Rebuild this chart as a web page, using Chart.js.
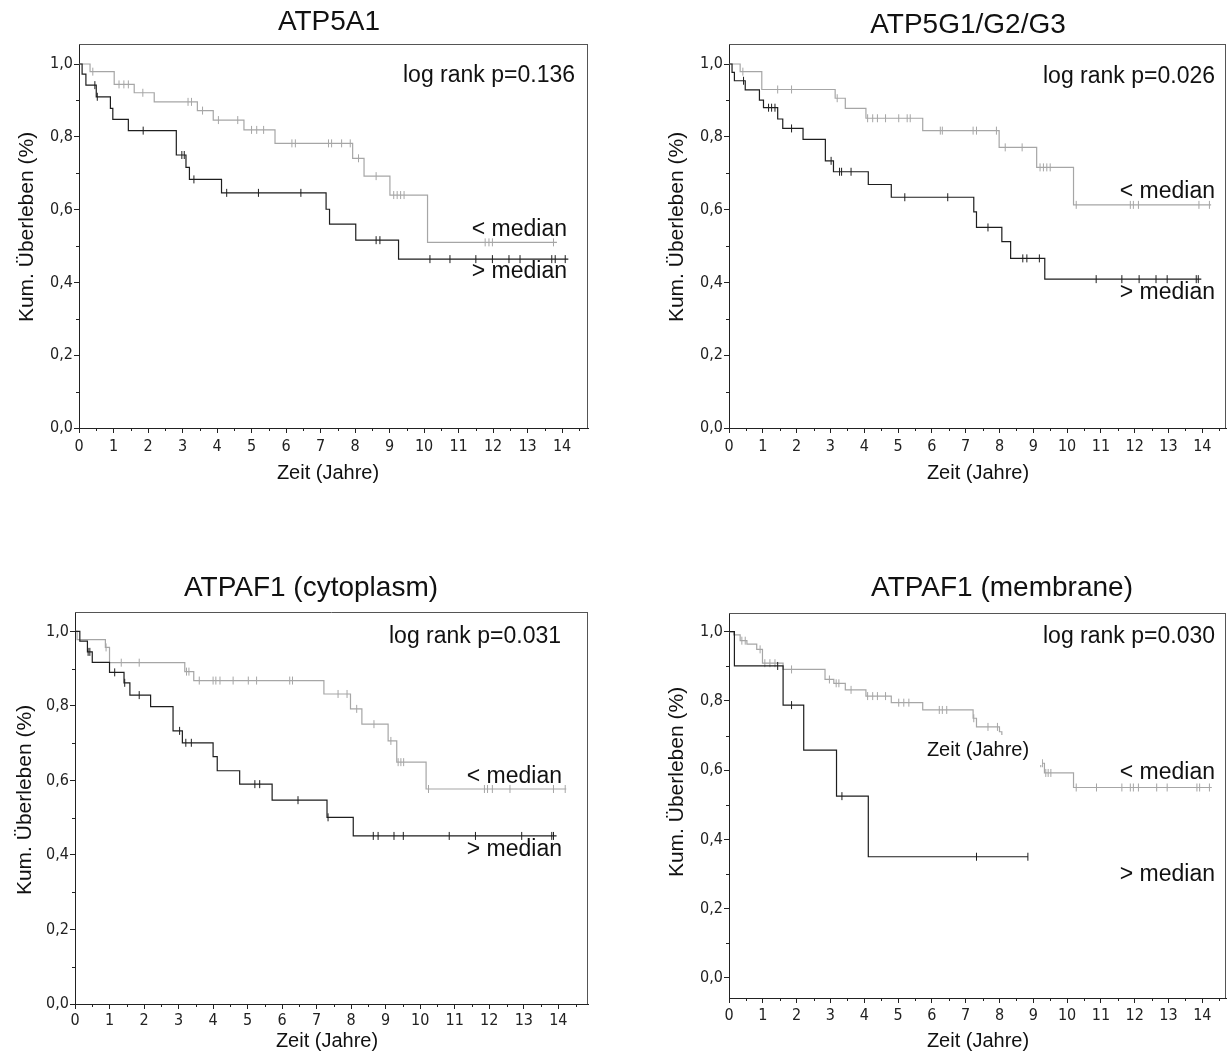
<!DOCTYPE html>
<html>
<head>
<meta charset="utf-8">
<title>Kaplan-Meier: ATP5A1, ATP5G1/G2/G3, ATPAF1</title>
<script src="https://cdn.jsdelivr.net/npm/chart.js@4.4.1/dist/chart.umd.min.js"></script>
<style>
  html, body { margin: 0; padding: 0; background: #fff; }
  #page { position: relative; width: 1231px; height: 1053px; overflow: hidden; }
  #page canvas { position: absolute; left: 0; top: 0; }
</style>
</head>
<body>
<div id="page">
  <canvas id="c1" width="1231" height="1053"></canvas>
  <canvas id="c2" width="1231" height="1053"></canvas>
  <canvas id="c3" width="1231" height="1053"></canvas>
  <canvas id="c4" width="1231" height="1053"></canvas>
</div>
<script>
// survival steps: time (years) where the curve drops, and the value after the drop
// last entry = end of follow-up. cens = censored cases (years)

// ATP5A1
const atp5a1LowTime  = [0, 0.32, 1.02, 1.6, 2.18, 3.43, 3.89, 4.78, 5.68, 7.93, 8.26, 9.01, 10.1, 13.85];
const atp5a1LowSurv  = [1.0, 0.979, 0.944, 0.921, 0.896, 0.872, 0.846, 0.819, 0.782, 0.741, 0.692, 0.640, 0.510, 0.510];
const atp5a1LowCens  = [0.4, 1.16, 1.3, 1.43, 1.85, 3.16, 3.26, 3.58, 4.04, 4.6, 5.0, 5.15, 5.35, 6.17, 6.27, 7.23, 7.32, 7.61, 7.86, 8.1, 8.61, 9.12, 9.22, 9.32, 9.42, 11.77, 11.88, 11.98, 13.75];
const atp5a1HighTime = [0, 0.09, 0.2, 0.5, 0.91, 0.98, 1.43, 2.82, 3.1, 3.2, 4.13, 7.16, 7.26, 8.02, 9.26, 14.18];
const atp5a1HighSurv = [1.0, 0.972, 0.942, 0.910, 0.878, 0.848, 0.817, 0.750, 0.716, 0.683, 0.646, 0.601, 0.560, 0.516, 0.464, 0.464];
const atp5a1HighCens = [0.46, 0.53, 1.86, 2.98, 3.05, 3.33, 4.28, 5.2, 6.43, 8.61, 8.72, 10.17, 10.75, 11.5, 11.98, 12.46, 12.78, 13.7, 13.8, 14.09];

// ATP5G1/G2/G3
const atp5gLowTime  = [0, 0.33, 0.97, 3.14, 3.44, 4.05, 5.73, 7.99, 9.1, 10.19, 14.26];
const atp5gLowSurv  = [1.0, 0.979, 0.930, 0.906, 0.878, 0.851, 0.817, 0.771, 0.716, 0.613, 0.613];
const atp5gLowCens  = [0.41, 1.44, 1.85, 3.2, 4.1, 4.25, 4.39, 4.63, 5.02, 5.27, 5.36, 6.25, 6.31, 7.22, 7.32, 7.91, 8.17, 8.67, 9.2, 9.3, 9.4, 9.5, 10.27, 11.87, 11.96, 12.11, 13.9, 14.21];
const atp5gHighTime = [0, 0.09, 0.16, 0.48, 0.9, 1.02, 1.44, 1.59, 2.19, 2.85, 3.09, 4.12, 4.8, 7.24, 7.32, 8.07, 8.33, 9.34, 13.97];
const atp5gHighSurv = [1.0, 0.977, 0.954, 0.929, 0.901, 0.880, 0.849, 0.823, 0.793, 0.734, 0.704, 0.669, 0.634, 0.594, 0.551, 0.512, 0.466, 0.409, 0.409];
const atp5gHighCens = [0.43, 1.17, 1.26, 1.36, 1.85, 3.02, 3.27, 3.33, 3.61, 5.2, 6.47, 7.66, 8.69, 8.81, 9.18, 10.86, 11.62, 12.13, 12.63, 12.96, 13.82, 13.88];

// ATPAF1 (cytoplasm)
const afCytoLowTime  = [0, 0.06, 0.88, 1.0, 3.18, 3.44, 7.21, 7.98, 8.31, 9.07, 9.32, 10.17, 14.23];
const afCytoLowSurv  = [1.0, 0.978, 0.957, 0.916, 0.892, 0.868, 0.832, 0.792, 0.751, 0.706, 0.649, 0.577, 0.577];
const afCytoLowCens  = [0.9, 1.34, 1.86, 3.23, 3.3, 3.6, 4.0, 4.08, 4.2, 4.58, 5.02, 5.26, 6.22, 6.3, 7.62, 7.88, 8.16, 8.66, 9.15, 9.36, 9.44, 9.52, 10.24, 11.86, 11.95, 12.09, 12.6, 13.86, 14.2];
const afCytoHighTime = [0, 0.14, 0.36, 0.5, 1.0, 1.42, 1.59, 2.19, 2.84, 3.11, 4.0, 4.12, 4.77, 5.71, 7.3, 8.06, 13.95];
const afCytoHighSurv = [1.0, 0.974, 0.945, 0.917, 0.890, 0.862, 0.829, 0.798, 0.733, 0.701, 0.664, 0.626, 0.590, 0.547, 0.501, 0.451, 0.451];
const afCytoHighCens = [0.38, 0.43, 1.15, 1.44, 1.86, 3.03, 3.21, 3.37, 5.21, 5.35, 6.46, 7.33, 8.64, 8.78, 9.24, 9.51, 10.84, 11.6, 12.94, 13.81, 13.86];

// ATPAF1 (membrane)
const afMemLowTime  = [0, 0.14, 0.33, 0.53, 0.82, 0.99, 1.6, 2.84, 3.1, 3.44, 4.05, 4.8, 5.73, 7.22, 7.32, 8.0, 8.07, 8.45, 8.85, 9.1, 9.33, 10.19, 14.28];
const afMemLowSurv  = [1.0, 0.991, 0.974, 0.964, 0.949, 0.909, 0.891, 0.862, 0.851, 0.832, 0.814, 0.795, 0.774, 0.750, 0.725, 0.711, 0.697, 0.665, 0.640, 0.620, 0.592, 0.550, 0.550];
const afMemLowCens  = [0.38, 0.48, 0.92, 1.06, 1.21, 1.36, 1.85, 2.97, 3.17, 3.25, 3.61, 4.1, 4.25, 4.39, 4.63, 5.02, 5.17, 5.32, 6.22, 6.31, 6.44, 7.24, 7.66, 7.94, 9.22, 9.27, 9.37, 9.44, 9.52, 10.27, 10.87, 11.62, 11.87, 11.96, 12.11, 12.65, 12.96, 13.84, 13.92, 14.21];
const afMemHighTime = [0, 0.16, 1.6, 2.21, 3.18, 4.12, 8.84];
const afMemHighSurv = [1.0, 0.901, 0.788, 0.658, 0.525, 0.350, 0.350];
const afMemHighCens = [1.44, 1.85, 3.34, 7.32, 8.84];

const SANS = "'Liberation Sans', Arial, sans-serif";
const TICKFONT = "'DejaVu Sans Condensed', 'DejaVu Sans', sans-serif";
const W = 1231, H = 1053;
const BLACK = '#1e1e1e', GREY = '#a6a6a6';

const panels = [
  { id: 'c1', title: 'ATP5A1', titleX: 329, titleY: 22,
    area: { l: 79, t: 44, r: 588, b: 428 }, xMax: 14.75, yMin: 0, yMax: 1.055, xPad: 4,
    yTitle: [27, 227], xTitle: [328, 473],
    pText: 'log rank p=0.136', pPos: [575, 76], labelRight: 567, lowY: 230, highY: 272,
    low: [atp5a1LowTime, atp5a1LowSurv, atp5a1LowCens], high: [atp5a1HighTime, atp5a1HighSurv, atp5a1HighCens] },
  { id: 'c2', title: 'ATP5G1/G2/G3', titleX: 968, titleY: 25,
    area: { l: 729, t: 44, r: 1230, b: 428 }, xMax: 14.7, yMin: 0, yMax: 1.055, xPad: 4,
    yTitle: [677, 227], xTitle: [978, 473],
    pText: 'log rank p=0.026', pPos: [1215, 77], labelRight: 1215, lowY: 192, highY: 293,
    low: [atp5gLowTime, atp5gLowSurv, atp5gLowCens], high: [atp5gHighTime, atp5gHighSurv, atp5gHighCens] },
  { id: 'c3', title: 'ATPAF1 (cytoplasm)', titleX: 311, titleY: 588,
    area: { l: 75, t: 612, r: 588, b: 1004 }, xMax: 14.86, yMin: 0, yMax: 1.052, xPad: 2,
    yTitle: [25, 800], xTitle: [327, 1041],
    pText: 'log rank p=0.031', pPos: [561, 637], labelRight: 562, lowY: 777, highY: 850,
    low: [afCytoLowTime, afCytoLowSurv, afCytoLowCens], high: [afCytoHighTime, afCytoHighSurv, afCytoHighCens] },
  { id: 'c4', title: 'ATPAF1 (membrane)', titleX: 1002, titleY: 588,
    area: { l: 729, t: 613, r: 1230, b: 998 }, xMax: 14.7, yMin: -0.058, yMax: 1.054, xPad: 3,
    yTitle: [677, 782], xTitle: [978, 1041],
    pText: 'log rank p=0.030', pPos: [1215, 637], labelRight: 1215, lowY: 773, highY: 875,
    stray: { text: 'Zeit (Jahre)', x: 978, y: 750, box: [918, 735, 124, 30] },
    low: [afMemLowTime, afMemLowSurv, afMemLowCens], high: [afMemHighTime, afMemHighSurv, afMemHighCens] }
];

function steps(times, surv) {
  return times.map((t, i) => ({ x: t, y: surv[i] }));
}
function survAt(t, times, surv) {
  let s = surv[0];
  for (let i = 0; i < times.length; i++) if (times[i] <= t) s = surv[i];
  return s;
}
function censPoints(cens, times, surv) {
  return cens.map(t => ({ x: t, y: survAt(t, times, surv) }));
}

function text(ctx, s, x, y, size, align) {
  ctx.font = size + 'px ' + SANS;
  ctx.textAlign = align || 'center';
  ctx.textBaseline = 'middle';
  ctx.fillText(s, x, y);
}

function decor(p) {
  return {
    id: 'decor' + p.id,
    beforeDatasetsDraw(chart) {
      const { ctx, chartArea: a } = chart;
      const xs = chart.scales.x, ys = chart.scales.y;
      ctx.save();
      ctx.lineWidth = 1;
      ctx.strokeStyle = '#555';
      ctx.beginPath();
      ctx.moveTo(a.left, Math.round(a.top) + 0.5); ctx.lineTo(a.right, Math.round(a.top) + 0.5);
      ctx.moveTo(Math.round(a.right) - 0.5, a.top); ctx.lineTo(Math.round(a.right) - 0.5, a.bottom);
      ctx.stroke();
      // minor ticks
      ctx.strokeStyle = '#222';
      ctx.beginPath();
      for (let v = 0.5; v < xs.max; v += 1) {
        const px = Math.round(xs.getPixelForValue(v)) + 0.5;
        ctx.moveTo(px, a.bottom); ctx.lineTo(px, a.bottom + 3);
      }
      for (let v = 0.1; v < 1; v += 0.2) {
        const py = Math.round(ys.getPixelForValue(v)) + 0.5;
        ctx.moveTo(a.left - 3, py); ctx.lineTo(a.left, py);
      }
      ctx.stroke();
      ctx.restore();
    },
    afterDraw(chart) {
      const ctx = chart.ctx;
      ctx.save();
      ctx.fillStyle = '#111';
      text(ctx, p.title, p.titleX, p.titleY, 28);
      text(ctx, 'Zeit (Jahre)', p.xTitle[0], p.xTitle[1], 20);
      text(ctx, p.pText, p.pPos[0], p.pPos[1], 23, 'right');
      text(ctx, '< median', p.labelRight, p.lowY, 23, 'right');
      text(ctx, '> median', p.labelRight, p.highY, 23, 'right');
      if (p.stray) {
        const b = p.stray.box;
        ctx.fillStyle = '#fff';
        ctx.fillRect(b[0], b[1], b[2], b[3]);
        ctx.fillStyle = '#111';
        text(ctx, p.stray.text, p.stray.x, p.stray.y, 20);
      }
      ctx.translate(p.yTitle[0], p.yTitle[1]);
      ctx.rotate(-Math.PI / 2);
      text(ctx, 'Kum. Überleben (%)', 0, 0, 21);
      ctx.restore();
    }
  };
}

function curve(label, pts, color) {
  return { label, data: pts, showLine: true, stepped: true, borderColor: color,
           borderWidth: 1.2, pointRadius: 0, fill: false };
}
function marks(label, pts, color) {
  return { label, data: pts, showLine: false, pointStyle: 'line', rotation: 90,
           pointRadius: 4, borderColor: color, borderWidth: 1, pointHoverRadius: 0 };
}

panels.forEach(p => {
  const a = p.area;
  const [hT, hS, hC] = p.high;
  const [lT, lS, lC] = p.low;
  new Chart(document.getElementById(p.id), {
    type: 'scatter',
    data: {
      datasets: [
        curve('> median', steps(hT, hS), BLACK),
        marks('> median censiert', censPoints(hC, hT, hS), BLACK),
        curve('< median', steps(lT, lS), GREY),
        marks('< median censiert', censPoints(lC, lT, lS), GREY)
      ]
    },
    options: {
      responsive: false,
      animation: false,
      events: [],
      layout: { padding: { top: a.t, right: W - a.r, left: 0, bottom: 0 } },
      plugins: { legend: { display: false }, tooltip: { enabled: false }, title: { display: false } },
      scales: {
        x: {
          type: 'linear', min: 0, max: p.xMax,
          afterFit: s => { s.height = H - a.b; },
          border: { display: true, color: '#222', width: 1 },
          grid: { drawOnChartArea: false, drawTicks: true, tickLength: 5, color: '#222' },
          ticks: { stepSize: 1, includeBounds: false, autoSkip: false, maxRotation: 0,
                   padding: p.xPad, color: '#222', font: { family: TICKFONT, size: 16 } }
        },
        y: {
          type: 'linear', min: p.yMin, max: p.yMax,
          afterFit: s => { s.width = a.l; },
          border: { display: true, color: '#222', width: 1 },
          grid: { drawOnChartArea: false, drawTicks: true, tickLength: 5, color: '#222' },
          ticks: { stepSize: 0.2, includeBounds: false, padding: 1, color: '#222',
                   font: { family: TICKFONT, size: 16 },
                   callback: v => v.toFixed(1).replace('.', ',') }
        }
      }
    },
    plugins: [decor(p)]
  });
});
</script>
</body>
</html>
